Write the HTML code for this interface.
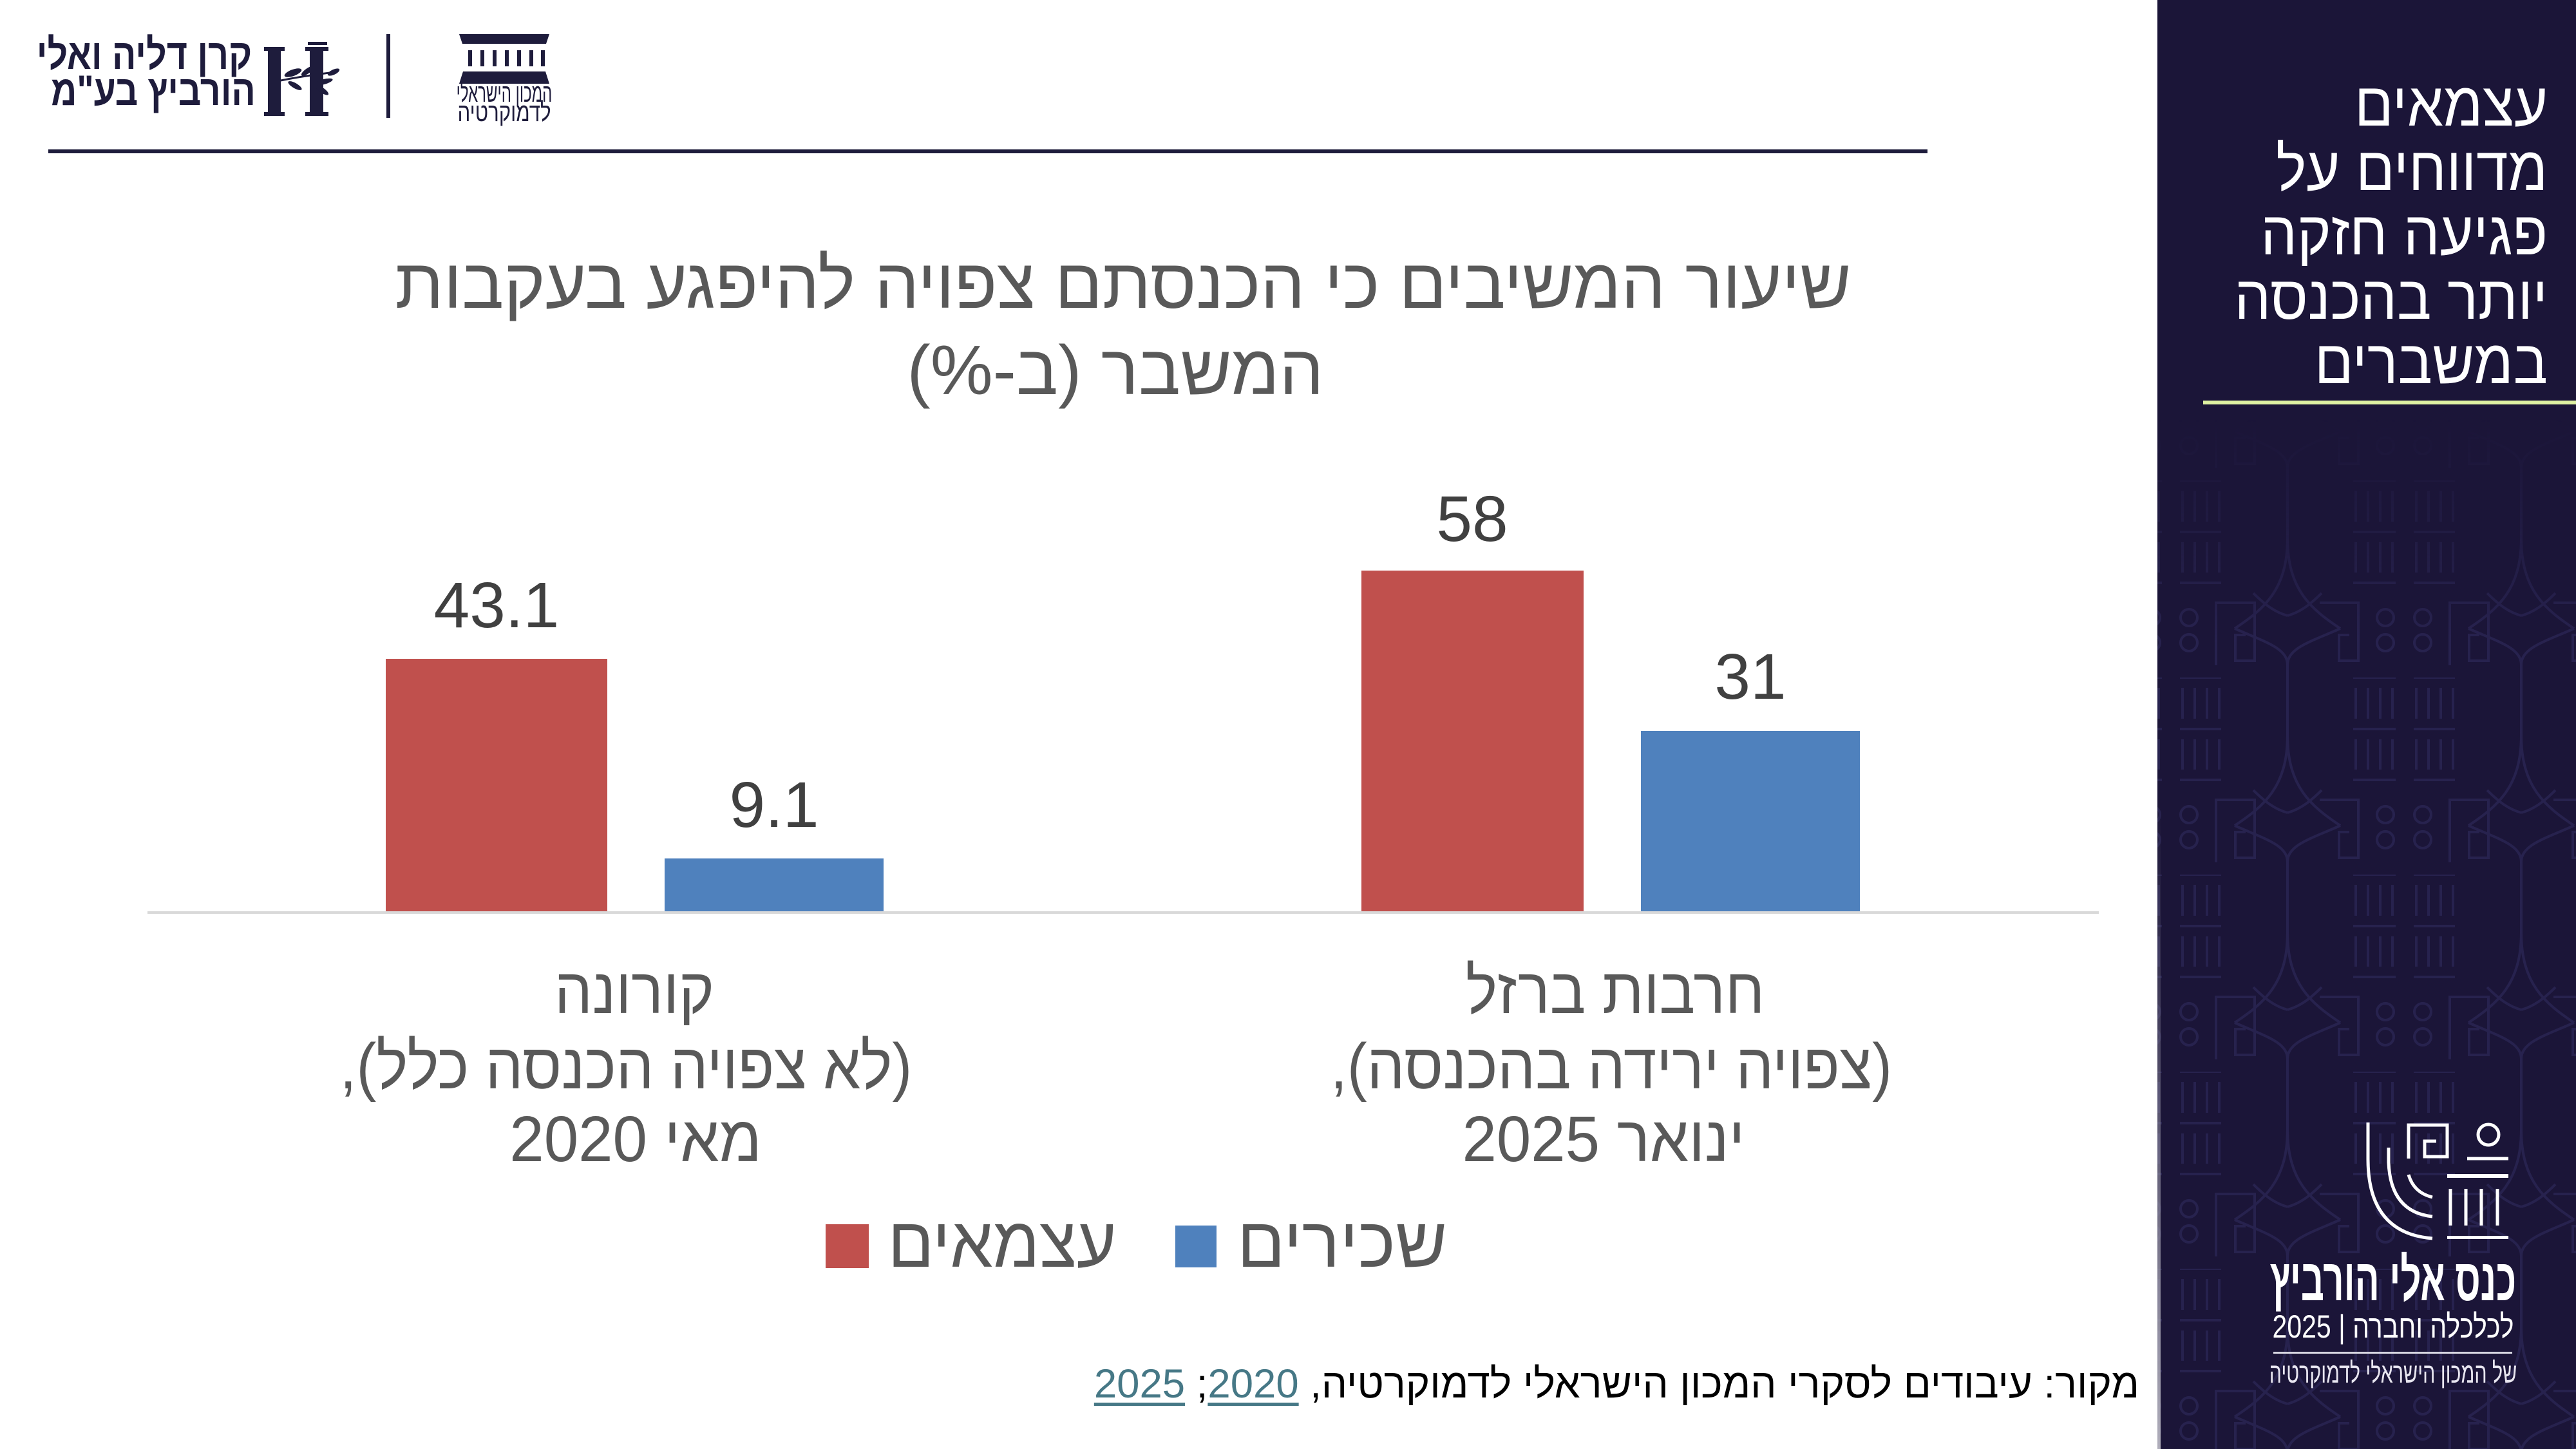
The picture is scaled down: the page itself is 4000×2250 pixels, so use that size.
<!DOCTYPE html>
<html><head><meta charset="utf-8">
<style>
html,body{margin:0;padding:0;background:#fff;}
body{width:4000px;height:2250px;position:relative;overflow:hidden;font-family:"Liberation Sans","DejaVu Sans",sans-serif;}
svg{position:absolute;left:0;top:0;}
.side{position:absolute;left:3350px;width:606px;top:113px;text-align:right;direction:rtl;color:#fff;font-size:96px;line-height:100px;white-space:nowrap;transform:scaleX(0.93);transform-origin:606px 0;}
.src{position:absolute;left:0;width:3322px;top:2116px;text-align:right;direction:rtl;color:#000;font-size:63.5px;line-height:66px;white-space:nowrap;}
.lnk{color:#467886;text-decoration:underline;text-decoration-thickness:5px;text-underline-offset:8px;}
</style></head>
<body>
<svg width="4000" height="2250" viewBox="0 0 4000 2250" xmlns="http://www.w3.org/2000/svg" font-family="Liberation Sans, DejaVu Sans, sans-serif">
<defs>
<pattern id="pat" x="3289" y="746" width="363" height="306" patternUnits="userSpaceOnUse">
<g fill="none" stroke="#2a2553" stroke-width="4">
<path d="M2,0H68M2,80H68M2,159H68M96,0H160M96,80H160M96,159H160"/>
<path d="M6,16V64M25,16V64M44,16V64M63,16V64M100,16V64M119,16V64M138,16V64M157,16V64"/>
<path d="M6,96V143M25,96V143M44,96V143M63,96V143M100,96V143M119,96V143M138,96V143M157,96V143"/>
<circle cx="52" cy="213" r="13"/><circle cx="52" cy="252" r="13"/>
<circle cx="110" cy="213" r="13"/><circle cx="110" cy="252" r="13"/>
<path d="M152,287V190H212V280H182V240H198"/>
<path d="M-50,190H10V280H-20V240H-4M313,190H373V280H343V240H359"/>
<path d="M263,-20V90M263,286V326"/>
<path d="M263,90C263,170 300,200 345,230M263,90C263,170 226,200 181,230"/>
<path d="M181,230C226,250 263,260 263,286M345,230C300,250 263,260 263,286"/>
<path d="M210,175C230,195 245,205 263,210M316,175C296,195 281,205 263,210"/>
</g>
</pattern>
<linearGradient id="fade" gradientUnits="userSpaceOnUse" x1="0" y1="650" x2="0" y2="1000">
<stop offset="0" stop-color="#fff" stop-opacity="0"/><stop offset="1" stop-color="#fff" stop-opacity="1"/>
</linearGradient>
<mask id="m"><rect x="3350" y="0" width="650" height="2250" fill="url(#fade)"/></mask>
<linearGradient id="edge" x1="0" y1="0" x2="0" y2="1">
<stop offset="0" stop-color="#8a879c" stop-opacity="0"/><stop offset="1" stop-color="#b0aebb" stop-opacity="1"/>
</linearGradient>
</defs>

<!-- header -->
<g fill="#1e1c3c">
<text transform="translate(224,107) scale(0.84,1)" text-anchor="middle" font-size="66" font-weight="bold" style="direction:rtl">קרן דליה ואלי</text>
<text transform="translate(238,163) scale(0.84,1)" text-anchor="middle" font-size="66" font-weight="bold" style="direction:rtl">הורביץ בע"מ</text>
<!-- H logo -->
<rect x="416" y="76" width="20" height="101"/>
<rect x="410" y="73" width="32" height="6"/>
<rect x="410" y="174" width="32" height="6"/>
<rect x="481" y="76" width="21" height="101"/>
<rect x="474" y="73" width="36" height="6"/>
<rect x="474" y="174" width="36" height="6"/>
<path d="M436,125 Q470,118 520,112" stroke="#1e1c3c" stroke-width="3" fill="none"/>
<ellipse cx="455" cy="113" rx="14" ry="5" transform="rotate(-20 455 113)"/>
<ellipse cx="458" cy="133" rx="12" ry="4" transform="rotate(30 458 133)"/>
<ellipse cx="478" cy="110" rx="12" ry="4" transform="rotate(-35 478 110)"/>
<ellipse cx="503" cy="127" rx="14" ry="4" transform="rotate(-15 503 127)"/>
<ellipse cx="500" cy="140" rx="12" ry="4" transform="rotate(35 500 140)"/>
<ellipse cx="518" cy="112" rx="10" ry="4" transform="rotate(-25 518 112)"/>
<rect x="478" y="65" width="30" height="5"/>
<!-- separator -->
<rect x="600" y="53" width="6" height="130"/>
<!-- institute -->
<polygon points="713,53 853,53 848,68 718,68"/>
<rect x="727" y="78" width="6" height="25"/><rect x="746" y="78" width="6" height="25"/><rect x="765" y="78" width="6" height="25"/><rect x="784" y="78" width="6" height="25"/><rect x="803" y="78" width="6" height="25"/><rect x="822" y="78" width="6" height="25"/><rect x="840" y="78" width="6" height="25"/>
<polygon points="719,111 847,111 853,130 713,130"/>
<text transform="translate(783,158) scale(0.6,1)" text-anchor="middle" font-size="40" style="direction:rtl">המכון הישראלי</text>
<text transform="translate(783,188) scale(0.78,1)" text-anchor="middle" font-size="40" style="direction:rtl">לדמוקרטיה</text>
<rect x="75" y="232" width="2918" height="6"/>
</g>

<!-- title -->
<g fill="#595959" font-size="109" style="direction:rtl" text-anchor="middle">
<text x="1744" y="478">שיעור המשיבים כי הכנסתם צפויה להיפגע בעקבות</text>
<text x="1732" y="612">המשבר (ב-%)</text>
</g>

<!-- bars -->
<rect x="599" y="1023" width="344" height="393" fill="#c0504d"/>
<rect x="1032" y="1333" width="340" height="83" fill="#4f81bd"/>
<rect x="2114" y="886" width="345" height="530" fill="#c0504d"/>
<rect x="2548" y="1135" width="340" height="281" fill="#4f81bd"/>
<rect x="229" y="1415" width="3030" height="4" fill="#d9d9d9"/>

<!-- data labels -->
<g fill="#404040" font-size="100" text-anchor="middle">
<text x="771" y="974">43.1</text>
<text x="1202" y="1284">9.1</text>
<text x="2286" y="840">58</text>
<text x="2718" y="1085">31</text>
</g>

<!-- category labels -->
<g fill="#595959" font-size="100" text-anchor="middle" style="direction:rtl">
<text transform="translate(985,1573) scale(0.93,1)">קורונה</text>
<text transform="translate(972,1690) scale(0.925,1)">(לא צפויה הכנסה כלל),</text>
<text transform="translate(987,1803) scale(0.96,1)">מאי 2020</text>
<text transform="translate(2508,1573) scale(0.93,1)">חרבות ברזל</text>
<text transform="translate(2502,1690) scale(0.925,1)">(צפויה ירידה בהכנסה),</text>
<text transform="translate(2490,1803) scale(0.96,1)">ינואר 2025</text>
</g>

<!-- legend -->
<rect x="1282" y="1901" width="67" height="68" fill="#c0504d"/>
<rect x="1825" y="1903" width="64" height="65" fill="#4f81bd"/>
<g fill="#595959" font-size="110" text-anchor="middle" style="direction:rtl">
<text transform="translate(1556,1967) scale(0.96,1)">עצמאים</text>
<text x="2084" y="1967">שכירים</text>
</g>

<!-- sidebar -->
<rect x="3350" y="0" width="650" height="2250" fill="#1b1538"/>
<rect x="3350" y="0" width="650" height="2250" fill="url(#pat)" mask="url(#m)" opacity="0.85"/>
<rect x="3350" y="1250" width="5" height="1000" fill="url(#edge)"/>
<rect x="3421" y="622" width="579" height="6" fill="#dff1a2"/>

<!-- sidebar logo -->
<g fill="none" stroke="#fff" stroke-width="5">
<path d="M3677,1743 L3677,1800 Q3677,1915 3777,1923"/>
<path d="M3709,1782 L3709,1805 Q3712,1882 3777,1889"/>
<path d="M3740,1824 Q3748,1852 3777,1859"/>
<path d="M3740,1799 L3740,1747 L3800,1747 L3800,1796 L3765,1796 L3765,1772 L3783,1772"/>
<circle cx="3864" cy="1762" r="16"/>
<path d="M3831,1799 H3895"/>
<path d="M3805,1846V1903M3829,1846V1903M3853,1846V1903M3878,1846V1903"/>
</g>
<rect x="3800" y="1823" width="95" height="6" fill="#fff"/>
<rect x="3800" y="1919" width="95" height="5" fill="#fff"/>
<g fill="#fff" text-anchor="middle" style="direction:rtl">
<text transform="translate(3716,2019) scale(0.64,1.05)" font-size="88" font-weight="bold">כנס אלי הורביץ</text>
<text transform="translate(3716,2077) scale(0.82,1)" font-size="50">לכלכלה וחברה | 2025</text>
<text transform="translate(3716,2147) scale(0.69,1)" font-size="44" fill="#e8e6f0">של המכון הישראלי לדמוקרטיה</text>
</g>
<rect x="3530" y="2099" width="371" height="3" fill="#d8d7e2"/>
</svg>

<div class="side">עצמאים<br>מדווחים על<br>פגיעה חזקה<br>יותר בהכנסה<br>במשברים</div>
<div class="src">מקור: עיבודים לסקרי המכון הישראלי לדמוקרטיה, <span class="lnk">2020</span>; <span class="lnk">2025</span></div>
</body></html>
